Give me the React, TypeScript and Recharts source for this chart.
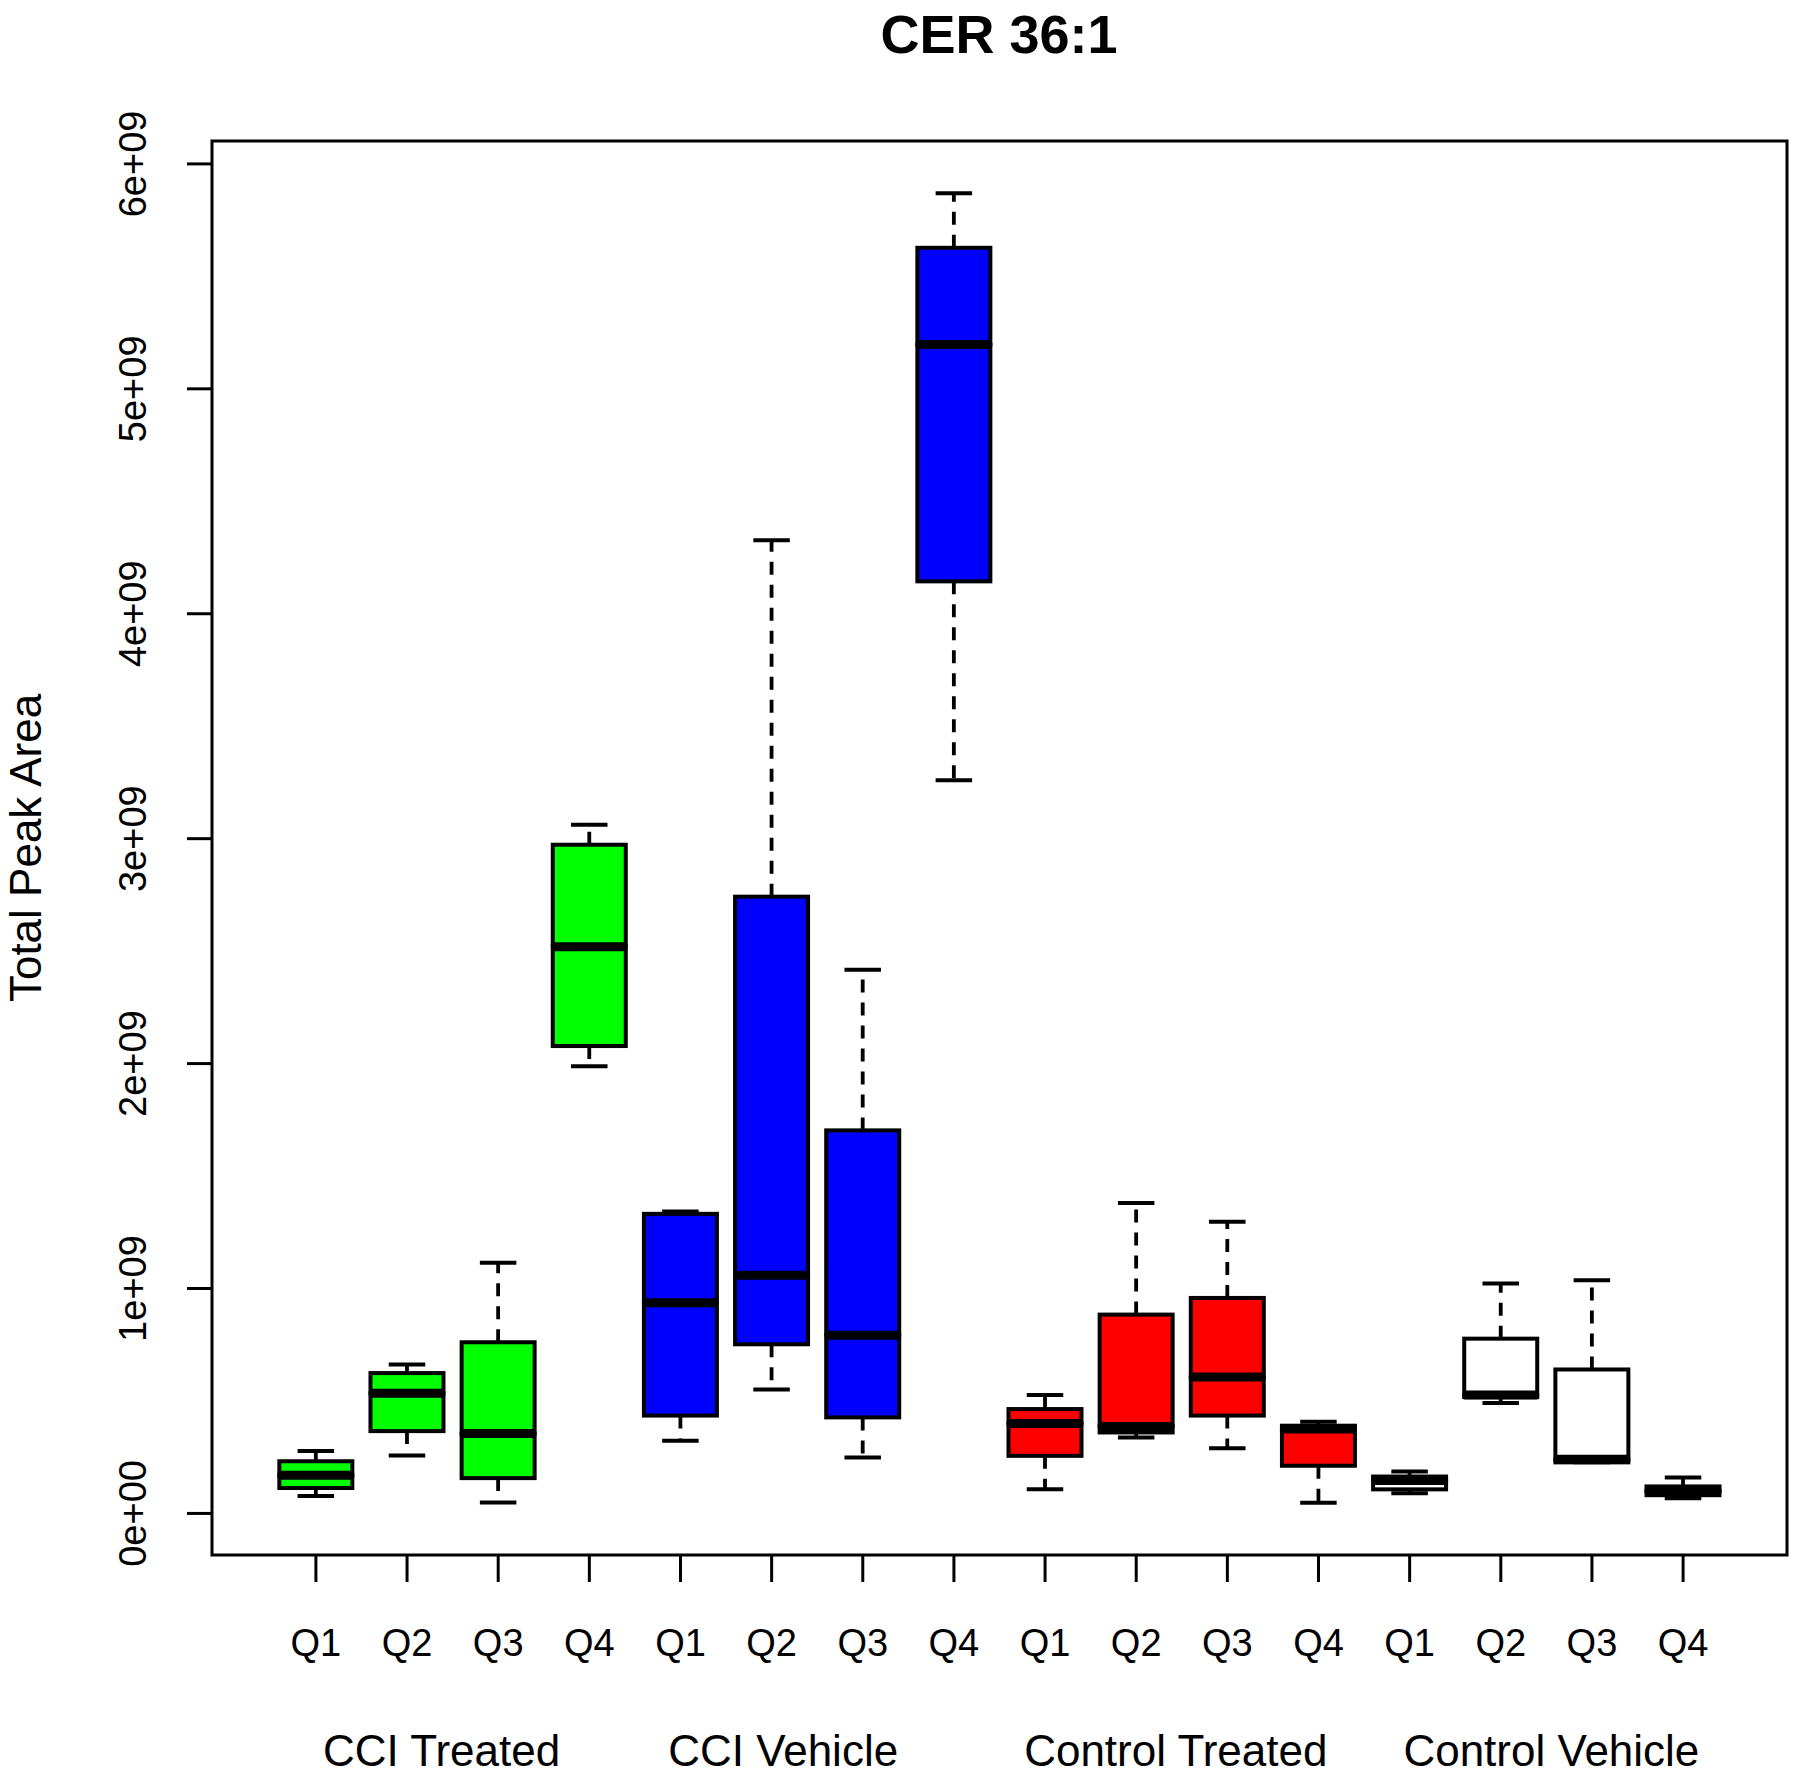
import React from "react";
import { ComposedChart, Bar, XAxis, YAxis, ReferenceArea } from "recharts";

// categories
const groups = ["CCI Treated", "CCI Vehicle", "Control Treated", "Control Vehicle"];
const quarters = ["Q1", "Q2", "Q3", "Q4"];
const groupColors = ["#00FF00", "#0000FF", "#FF0000", "#FFFFFF"];

// boxplot stats, 16 boxes (group x quarter)
const whiskerLow = [
    0.077e9, 0.257e9, 0.049e9, 1.988e9,
    0.323e9, 0.551e9, 0.249e9, 3.26e9,
    0.107e9, 0.338e9, 0.29e9, 0.048e9,
    0.09e9, 0.491e9, 0.227e9, 0.067e9,
];
const boxLow = [
    0.113e9, 0.366e9, 0.157e9, 2.078e9,
    0.435e9, 0.752e9, 0.427e9, 4.144e9,
    0.256e9, 0.36e9, 0.435e9, 0.212e9,
    0.107e9, 0.517e9, 0.227e9, 0.081e9,
];
const medians = [
    0.17e9, 0.534e9, 0.355e9, 2.52e9,
    0.937e9, 1.059e9, 0.792e9, 5.197e9,
    0.4e9, 0.387e9, 0.606e9, 0.375e9,
    0.146e9, 0.527e9, 0.241e9, 0.1e9,
];
const boxHigh = [
    0.232e9, 0.624e9, 0.761e9, 2.973e9,
    1.332e9, 2.742e9, 1.703e9, 5.627e9,
    0.464e9, 0.884e9, 0.958e9, 0.39e9,
    0.164e9, 0.777e9, 0.64e9, 0.12e9,
];
const whiskerHigh = [
    0.278e9, 0.662e9, 1.114e9, 3.062e9,
    1.342e9, 4.327e9, 2.417e9, 5.869e9,
    0.527e9, 1.38e9, 1.297e9, 0.408e9,
    0.186e9, 1.022e9, 1.037e9, 0.16e9,
];

const yTicks = [0, 1e9, 2e9, 3e9, 4e9, 5e9, 6e9];

const FONT = "'Liberation Sans', Arial, sans-serif";

const labels = groups.flatMap(() => quarters);
const xTicks = labels.map((_, i) => i + 1);
const groupCenters = groups.map((_, g) => g * 4 + 2.5);
// small nudges of the group titles, as in the original mtext
const groupLabelShift = [-11, -34, -6, 5];

// R style limits: +-4% around the data range
const lo = Math.min(...whiskerLow);
const hi = Math.max(...whiskerHigh);
const yDomain = [lo - (hi - lo) * 0.04, hi + (hi - lo) * 0.04];
const xDomain = [0.5 - 16 * 0.04, 16.5 + 16 * 0.04];

const rows = labels.map((q, i) => ({
    pos: i + 1,
    label: q,
    color: groupColors[Math.floor(i / 4)],
    base: whiskerLow[i],
    lowW: boxLow[i] - whiskerLow[i],
    lowBox: medians[i] - boxLow[i],
    highBox: boxHigh[i] - medians[i],
    highW: whiskerHigh[i] - boxHigh[i],
}));

const sci = (v: number) => (v === 0 ? "0e+00" : `${Math.round(v / 1e9)}e+09`);

const WhiskerDown = (p: any) => {
    const cx = p.x + p.width / 2;
    const top = p.y;
    const bot = p.y + p.height;
    return (
        <g>
            <line x1={cx} x2={cx} y1={top} y2={bot} stroke="#000" strokeWidth={3.8} strokeDasharray="13 10" />
            <line x1={cx - p.width / 4} x2={cx + p.width / 4} y1={bot} y2={bot} stroke="#000" strokeWidth={4} />
        </g>
    );
};

const WhiskerUp = (p: any) => {
    const cx = p.x + p.width / 2;
    const top = p.y;
    const bot = p.y + p.height;
    return (
        <g>
            <line x1={cx} x2={cx} y1={bot} y2={top} stroke="#000" strokeWidth={3.8} strokeDasharray="13 10" />
            <line x1={cx - p.width / 4} x2={cx + p.width / 4} y1={top} y2={top} stroke="#000" strokeWidth={4} />
        </g>
    );
};

const BoxLower = (p: any) => (
    <rect x={p.x} y={p.y} width={p.width} height={Math.max(p.height, 0)} fill={p.payload.color} stroke="#000" strokeWidth={4} />
);

const BoxUpper = (p: any) => (
    <g>
        <rect x={p.x} y={p.y} width={p.width} height={Math.max(p.height, 0)} fill={p.payload.color} stroke="#000" strokeWidth={4} />
        <line x1={p.x} x2={p.x + p.width} y1={p.y + p.height} y2={p.y + p.height} stroke="#000" strokeWidth={9} />
    </g>
);

const YTick = (p: any) => {
    const cx = p.x - 54;
    return (
        <text x={cx} y={p.y} transform={`rotate(-90, ${cx}, ${p.y})`} textAnchor="middle" dominantBaseline="central"
            fontSize={38} fontFamily={FONT} fill="#000">
            {sci(p.payload.value)}
        </text>
    );
};

const QTick = (p: any) => (
    <text x={p.x} y={p.y + 72} textAnchor="middle" fontSize={38} fontFamily={FONT} fill="#000">
        {labels[Math.round(p.payload.value) - 1]}
    </text>
);

const GroupTick = (p: any) => {
    const g = groupCenters.indexOf(p.payload.value);
    return (
        <text x={p.x + groupLabelShift[g]} y={p.y + 101} textAnchor="middle" fontSize={44} fontFamily={FONT} fill="#000">
            {groups[g]}
        </text>
    );
};

const YLabel = (p: any) => {
    const vb = p.viewBox;
    const cy = vb.y + vb.height / 2;
    return (
        <text x={25} y={cy} transform={`rotate(-90, 25, ${cy})`} textAnchor="middle" dominantBaseline="central"
            fontSize={44} fontFamily={FONT} fill="#000">
            Total Peak Area
        </text>
    );
};

export default function App() {
    return (
        <div style={{ position: "absolute", left: 0, top: 0, width: 1800, height: 1774, background: "#fff" }}>
            <svg width={1800} height={100} style={{ position: "absolute", left: 0, top: 0 }}>
                <text x={999} y={53} textAnchor="middle" fontSize={54} fontWeight="bold" fontFamily={FONT} fill="#000">
                    CER 36:1
                </text>
            </svg>
            <ComposedChart width={1800} height={1774} data={rows} margin={{ top: 141, right: 13, bottom: 9, left: 62 }}>
                <XAxis dataKey="pos" type="number" domain={xDomain} ticks={xTicks} interval={0} allowDataOverflow
                    axisLine={false} tickSize={27} tickLine={{ stroke: "#000", strokeWidth: 3 }} height={110} tick={<QTick />} />
                <XAxis xAxisId="grp" dataKey="pos" type="number" domain={xDomain} ticks={groupCenters} interval={0}
                    allowDataOverflow axisLine={false} tickLine={false} tickSize={0} tickMargin={0} height={100} tick={<GroupTick />} />
                <YAxis type="number" domain={yDomain} ticks={yTicks} interval={0} allowDataOverflow width={150}
                    axisLine={false} tickSize={25} tickMargin={0} tickLine={{ stroke: "#000", strokeWidth: 3 }}
                    tick={<YTick />} label={{ content: <YLabel /> }} />
                <Bar dataKey="base" stackId="b" barSize={73} fill="none" isAnimationActive={false} />
                <Bar dataKey="lowW" stackId="b" barSize={73} shape={<WhiskerDown />} isAnimationActive={false} />
                <Bar dataKey="lowBox" stackId="b" barSize={73} shape={<BoxLower />} isAnimationActive={false} />
                <Bar dataKey="highBox" stackId="b" barSize={73} shape={<BoxUpper />} isAnimationActive={false} />
                <Bar dataKey="highW" stackId="b" barSize={73} shape={<WhiskerUp />} isAnimationActive={false} />
                <ReferenceArea x1={xDomain[0]} x2={xDomain[1]} y1={yDomain[0]} y2={yDomain[1]} fill="none"
                    stroke="#000" strokeWidth={3} ifOverflow="visible" />
            </ComposedChart>
        </div>
    );
}
